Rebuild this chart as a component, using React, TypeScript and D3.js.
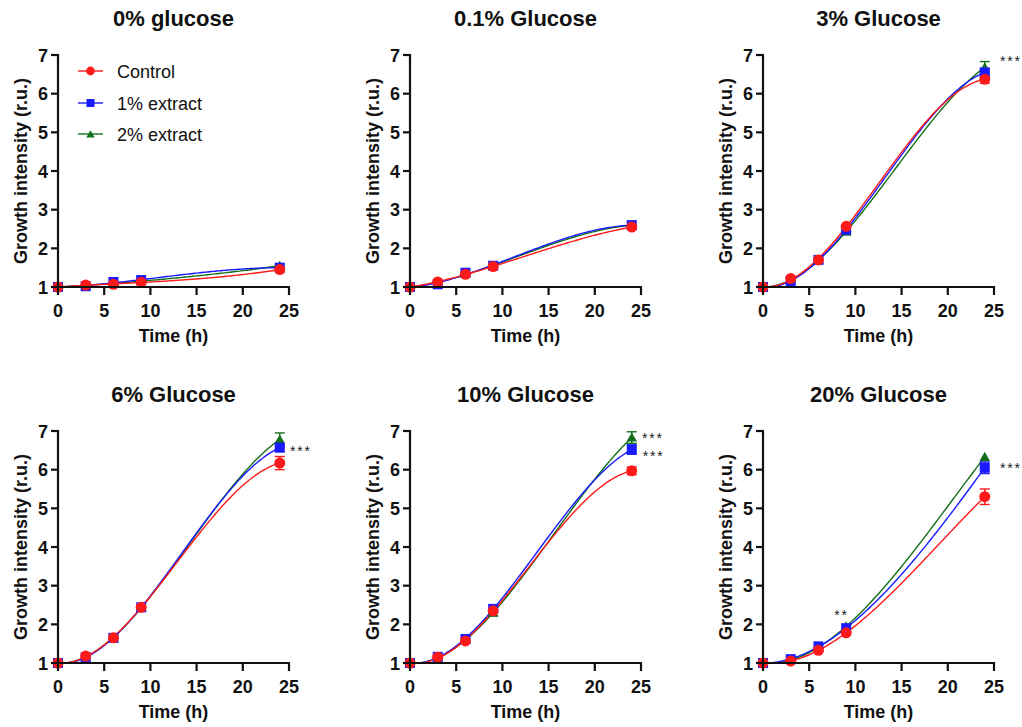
import React from "react";
import * as d3 from "d3";

const TIMES = [0, 3, 6, 9, 24];
const PANEL_TITLES = ["0% glucose", "0.1% Glucose", "3% Glucose", "6% Glucose", "10% Glucose", "20% Glucose"];
const SERIES_NAMES = ["Control", "1% extract", "2% extract"];
const X_TICKS = [0, 5, 10, 15, 20, 25];
const Y_TICKS = [1, 2, 3, 4, 5, 6, 7];

const controlValues = [
  [1.0, 1.05, 1.07, 1.12, 1.45],
  [1.0, 1.13, 1.33, 1.53, 2.55],
  [1.0, 1.22, 1.7, 2.57, 6.37],
  [1.0, 1.18, 1.65, 2.44, 6.17],
  [1.0, 1.15, 1.57, 2.35, 5.97],
  [1.0, 1.05, 1.33, 1.78, 5.3],
];
const extract1Values = [
  [1.0, 1.02, 1.13, 1.18, 1.5],
  [1.0, 1.07, 1.37, 1.55, 2.6],
  [1.0, 1.15, 1.7, 2.48, 6.55],
  [1.0, 1.15, 1.65, 2.44, 6.57],
  [1.0, 1.16, 1.62, 2.4, 6.52],
  [1.0, 1.1, 1.43, 1.9, 6.05],
];
const extract2Values = [
  [1.0, 1.04, 1.1, 1.15, 1.55],
  [1.0, 1.1, 1.35, 1.55, 2.6],
  [1.0, 1.18, 1.7, 2.43, 6.68],
  [1.0, 1.17, 1.65, 2.43, 6.78],
  [1.0, 1.13, 1.6, 2.3, 6.83],
  [1.0, 1.08, 1.4, 1.95, 6.33],
];
const controlErr = [
  [0, 0.02, 0.02, 0.03, 0.05],
  [0, 0.03, 0.03, 0.04, 0.05],
  [0, 0.04, 0.04, 0.05, 0.1],
  [0, 0.03, 0.03, 0.04, 0.17],
  [0, 0.03, 0.03, 0.04, 0.1],
  [0, 0.02, 0.03, 0.05, 0.2],
];
const extract1Err = [
  [0, 0.02, 0.02, 0.03, 0.04],
  [0, 0.03, 0.03, 0.04, 0.04],
  [0, 0.04, 0.04, 0.05, 0.1],
  [0, 0.03, 0.03, 0.04, 0.1],
  [0, 0.03, 0.03, 0.04, 0.12],
  [0, 0.02, 0.03, 0.05, 0.15],
];
const extract2Err = [
  [0, 0.02, 0.02, 0.03, 0.05],
  [0, 0.03, 0.03, 0.04, 0.04],
  [0, 0.04, 0.04, 0.05, 0.15],
  [0, 0.03, 0.03, 0.04, 0.17],
  [0, 0.03, 0.03, 0.08, 0.15],
  [0, 0.02, 0.03, 0.05, 0.05],
];

const ANNOTATIONS = [
  { panel: 2, t: 25.65, v: 6.92, text: "***" },
  { panel: 3, t: 25.1, v: 6.56, text: "***" },
  { panel: 4, t: 25.1, v: 6.89, text: "***" },
  { panel: 4, t: 25.2, v: 6.44, text: "***" },
  { panel: 5, t: 7.7, v: 2.32, text: "**" },
  { panel: 5, t: 25.65, v: 6.12, text: "***" },
];

const COLORS = ["#ff1a1a", "#1a1aff", "#13701a"];
const SHAPES = ["circle", "square", "triangle"];
const FONT = "'Liberation Sans', Arial, Helvetica, sans-serif";

const PANEL_X = [58, 410, 763];
const PANEL_Y = [55, 431];
const PW = 231;
const PH = 232;

function cubicFit(xs: number[], ys: number[]) {
  const n = 4;
  const A: number[][] = Array.from({ length: n }, () => new Array(n + 1).fill(0));
  for (let k = 0; k < xs.length; k++) {
    for (let i = 0; i < n; i++) {
      for (let j = 0; j < n; j++) A[i][j] += Math.pow(xs[k], i + j);
      A[i][n] += ys[k] * Math.pow(xs[k], i);
    }
  }
  for (let c = 0; c < n; c++) {
    let p = c;
    for (let r = c + 1; r < n; r++) if (Math.abs(A[r][c]) > Math.abs(A[p][c])) p = r;
    [A[c], A[p]] = [A[p], A[c]];
    for (let r = 0; r < n; r++) {
      if (r === c) continue;
      const f = A[r][c] / A[c][c];
      for (let j = c; j <= n; j++) A[r][j] -= f * A[c][j];
    }
  }
  const coef = A.map((row, i) => row[n] / row[i]);
  return (x: number) => coef.reduce((s, c, i) => s + c * Math.pow(x, i), 0);
}

function Marker({ shape, x, y, color, s = 1 }: any) {
  if (shape === "circle") return <circle cx={x} cy={y} r={5.5 * s} fill={color} />;
  if (shape === "square") {
    const h = 5 * s;
    return <rect x={x - h} y={y - h} width={2 * h} height={2 * h} fill={color} />;
  }
  const sym = d3.symbol().type(d3.symbolTriangle).size(48 * s * s)();
  return <path d={sym as string} transform={`translate(${x},${y + 1})`} fill={color} />;
}

function Panel({ idx }: { idx: number }) {
  const x0 = PANEL_X[idx % 3];
  const y0 = PANEL_Y[Math.floor(idx / 3)];
  const x = d3.scaleLinear().domain([0, 25]).range([x0, x0 + PW]);
  const y = d3.scaleLinear().domain([1, 7]).range([y0 + PH, y0]);
  const vals = [controlValues[idx], extract1Values[idx], extract2Values[idx]];
  const errs = [controlErr[idx], extract1Err[idx], extract2Err[idx]];
  const line = d3
    .line<[number, number]>()
    .x((d) => x(d[0]))
    .y((d) => y(d[1]));
  const samples = d3.range(0, 24.001, 0.2);
  const order = [2, 1, 0];
  return (
    <g>
      <text x={x0 + PW / 2} y={y0 - 29} textAnchor="middle" fontFamily={FONT} fontWeight="bold" fontSize={22} fill="#111">
        {PANEL_TITLES[idx]}
      </text>
      {order.map((s) => {
        const f = cubicFit(TIMES, vals[s]);
        const pts = samples.map((t) => [t, f(t)] as [number, number]);
        return <path key={"l" + s} d={line(pts) as string} fill="none" stroke={COLORS[s]} strokeWidth={1.4} />;
      })}
      {order.map((s) =>
        TIMES.map((t, i) =>
          errs[s][i] > 0.06 ? (
            <g key={`e${s}-${i}`} stroke={COLORS[s]} strokeWidth={1.4}>
              <line x1={x(t)} x2={x(t)} y1={y(vals[s][i] - errs[s][i])} y2={y(vals[s][i] + errs[s][i])} />
              <line x1={x(t) - 5} x2={x(t) + 5} y1={y(vals[s][i] + errs[s][i])} y2={y(vals[s][i] + errs[s][i])} />
              <line x1={x(t) - 5} x2={x(t) + 5} y1={y(vals[s][i] - errs[s][i])} y2={y(vals[s][i] - errs[s][i])} />
            </g>
          ) : null
        )
      )}
      {order.map((s) =>
        TIMES.map((t, i) => <Marker key={`m${s}-${i}`} shape={SHAPES[s]} x={x(t)} y={y(vals[s][i])} color={COLORS[s]} />)
      )}
      <line x1={x0} x2={x0} y1={y0 - 1} y2={y0 + PH + 1} stroke="#111" strokeWidth={2.2} />
      <line x1={x0 - 1} x2={x0 + PW + 1} y1={y0 + PH} y2={y0 + PH} stroke="#111" strokeWidth={2.2} />
      {Y_TICKS.map((v) => (
        <g key={"yt" + v}>
          <line x1={x0 - 7} x2={x0} y1={y(v)} y2={y(v)} stroke="#111" strokeWidth={2.2} />
          <text x={x0 - 10} y={y(v) + 6.5} textAnchor="end" fontFamily={FONT} fontWeight="bold" fontSize={18} fill="#111">
            {v}
          </text>
        </g>
      ))}
      {X_TICKS.map((v) => (
        <g key={"xt" + v}>
          <line x1={x(v)} x2={x(v)} y1={y0 + PH} y2={y0 + PH + 8} stroke="#111" strokeWidth={2.2} />
          <text x={x(v)} y={y0 + PH + 30} textAnchor="middle" fontFamily={FONT} fontWeight="bold" fontSize={18} fill="#111">
            {v}
          </text>
        </g>
      ))}
      <text x={x0 + PW / 2} y={y0 + PH + 55} textAnchor="middle" fontFamily={FONT} fontWeight="bold" fontSize={18} fill="#111">
        Time (h)
      </text>
      <text
        transform={`translate(${x0 - 31},${y0 + PH / 2}) rotate(-90)`}
        textAnchor="middle"
        fontFamily={FONT}
        fontWeight="bold"
        fontSize={18}
        fill="#111"
      >
        Growth intensity (r.u.)
      </text>
      {ANNOTATIONS.filter((a) => a.panel === idx).map((a, k) => (
        <text
          key={"a" + k}
          x={x(a.t)}
          y={y(a.v) + 8}
          fontFamily={FONT}
          fontSize={14}
          letterSpacing={1.8}
          fill="#1a1a2a"
        >
          {a.text}
        </text>
      ))}
    </g>
  );
}

function Legend() {
  const ly = [71, 103, 134];
  return (
    <g>
      {SERIES_NAMES.map((name, s) => (
        <g key={name}>
          <line x1={78} x2={103} y1={ly[s]} y2={ly[s]} stroke={COLORS[s]} strokeWidth={1.4} />
          <Marker shape={SHAPES[s]} x={90.5} y={ly[s]} color={COLORS[s]} s={0.8} />
          <text x={117} y={ly[s] + 6.5} fontFamily={FONT} fontSize={18} fill="#111">
            {name}
          </text>
        </g>
      ))}
    </g>
  );
}

export default function App() {
  return (
    <svg width={1022} height={727} style={{ position: "absolute", left: 0, top: 0, background: "#fff" }}>
      <rect width={1022} height={727} fill="#fff" />
      {PANEL_TITLES.map((_, i) => (
        <Panel key={i} idx={i} />
      ))}
      <Legend />
    </svg>
  );
}
